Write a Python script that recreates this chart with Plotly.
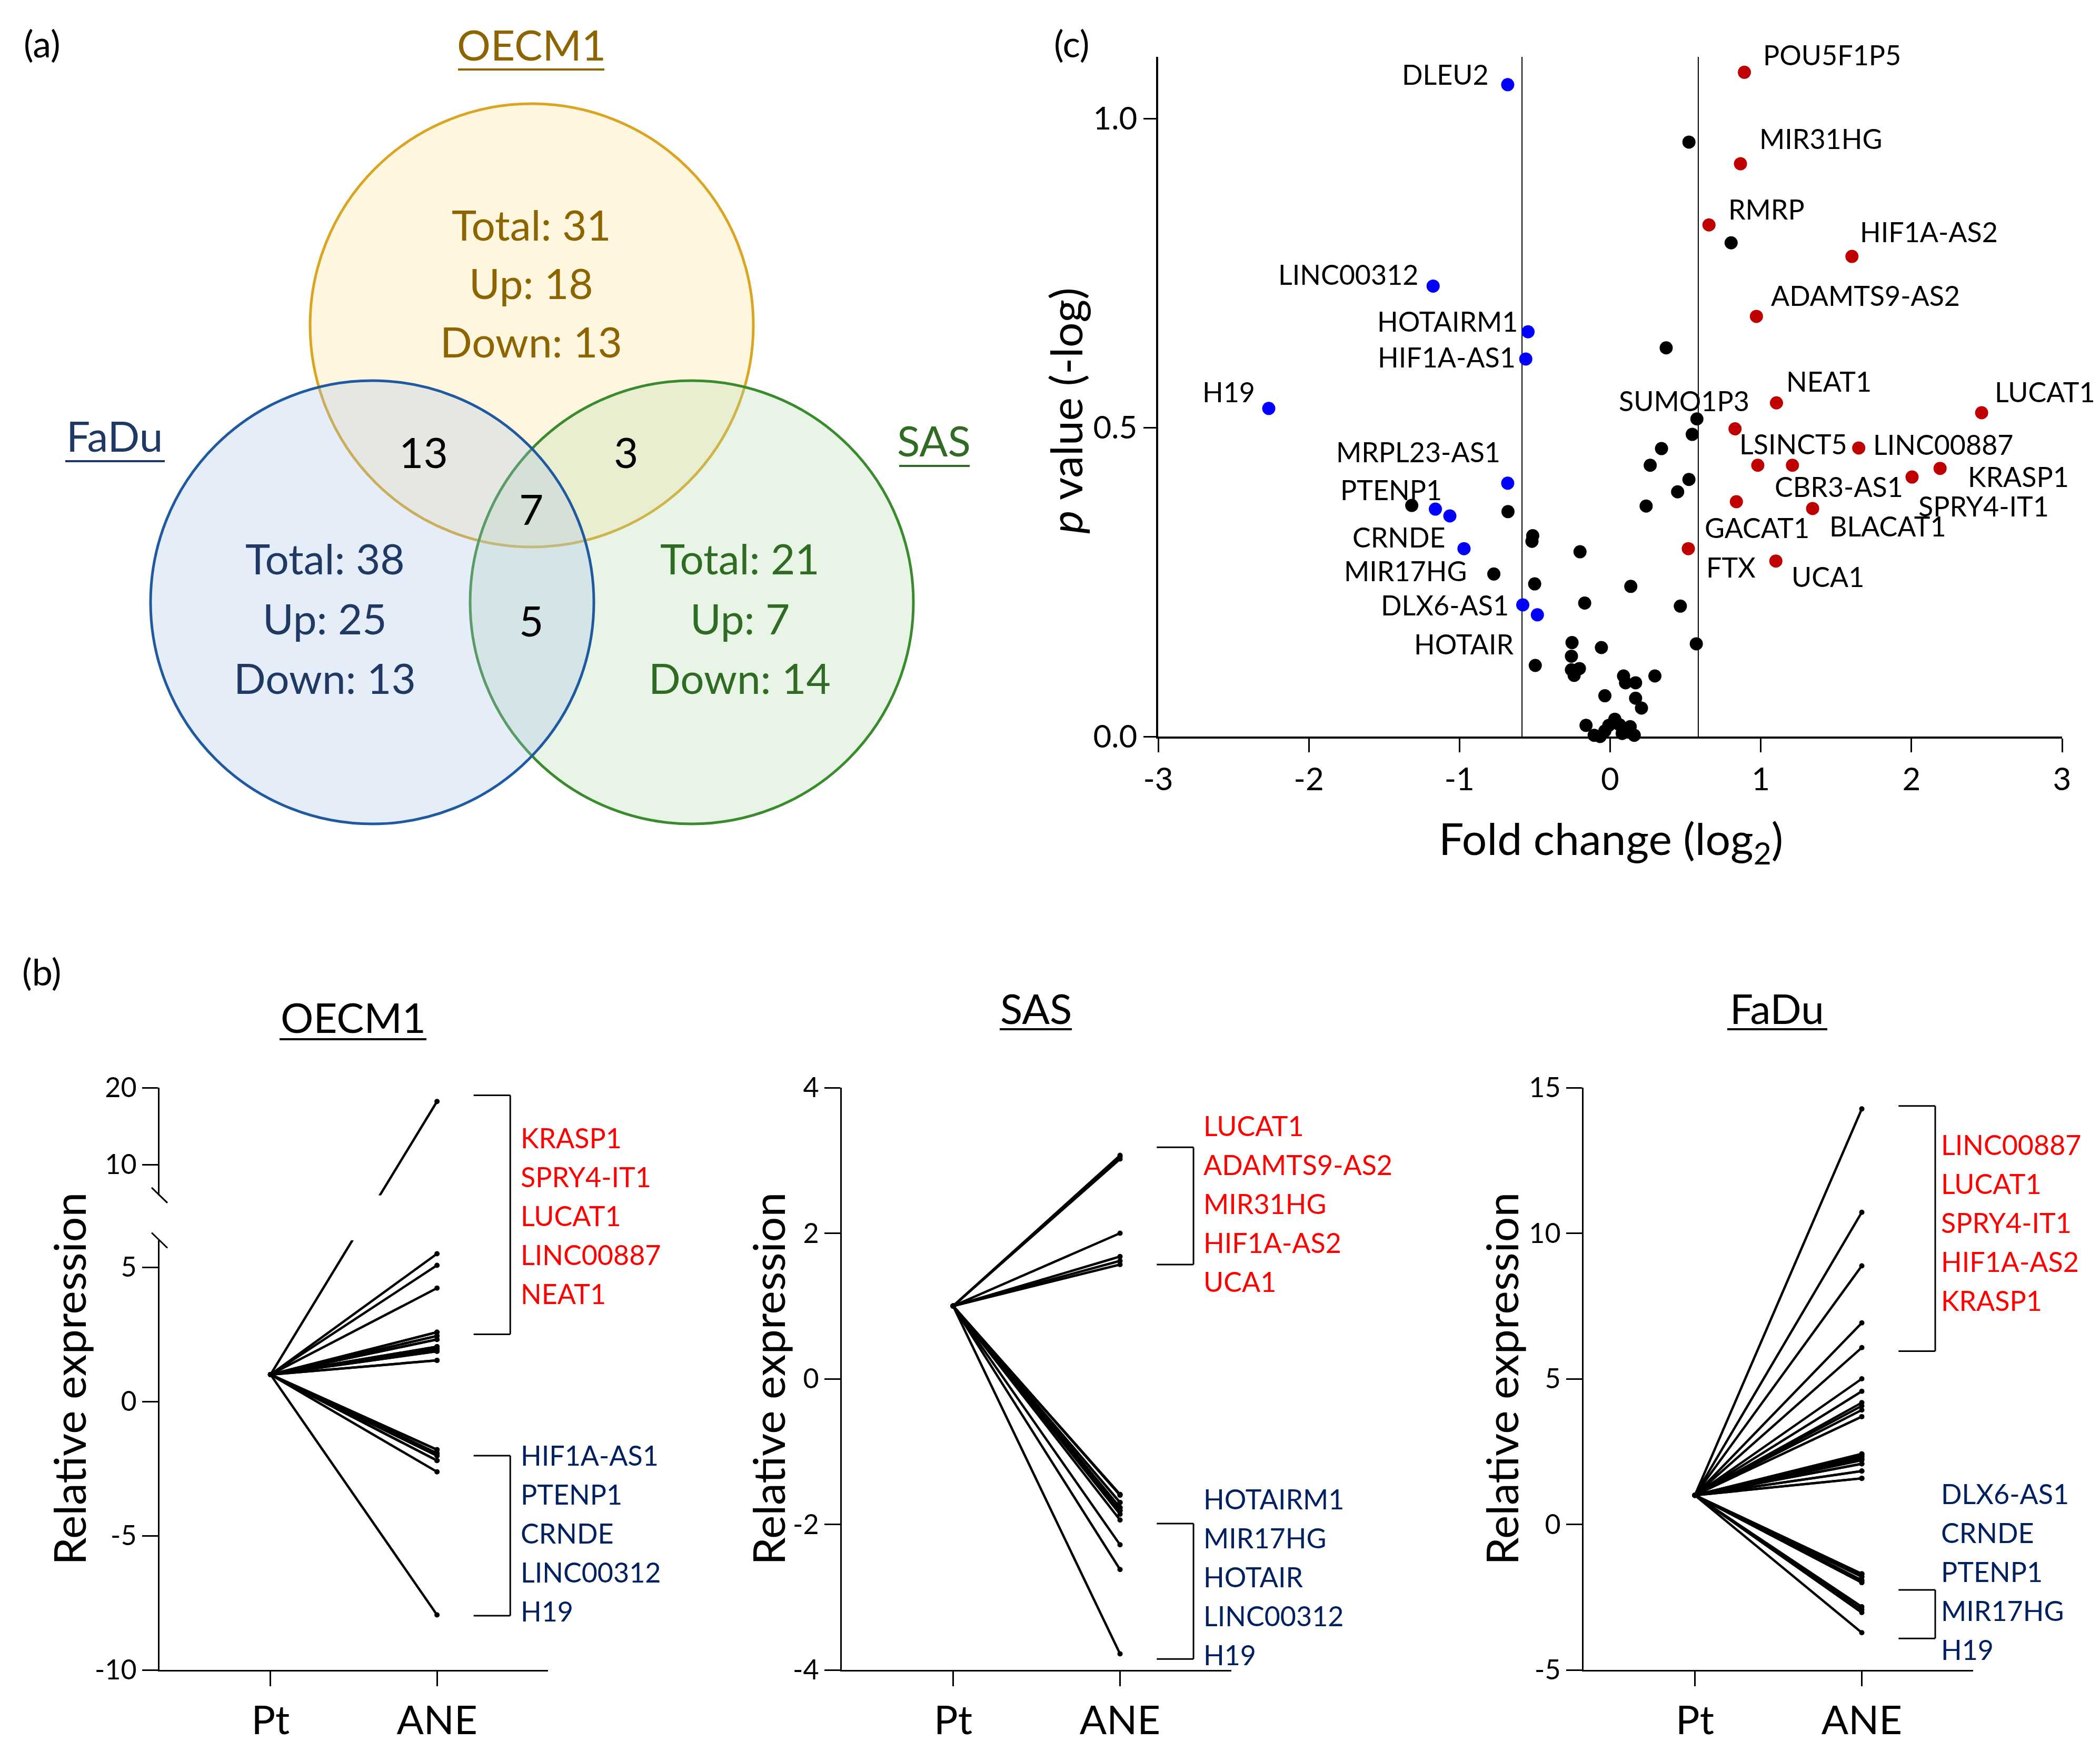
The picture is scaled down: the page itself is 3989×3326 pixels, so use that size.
import plotly.graph_objects as go

W, H = 3989, 3326
FONT = "Lato"

def px(x):
    return x / W

def py(y):
    return 1 - y / H

# ------------------------------------------------------------------ data
# (a) Venn diagram
VENN_SETS = ["OECM1", "FaDu", "SAS"]
VENN_TOTAL = [31, 38, 21]
VENN_UP = [18, 25, 7]
VENN_DOWN = [13, 13, 14]
VENN_OVERLAP_NAMES = ["OECM1&FaDu", "OECM1&SAS", "All", "FaDu&SAS"]
VENN_OVERLAP_COUNTS = [13, 3, 7, 5]

# (c) volcano plot: log2 fold change / -log p
DOWN_X = [-0.68, -1.175, -0.545, -0.56, -2.266, -0.68, -1.16, -1.064, -0.97, -0.58, -0.483]
DOWN_Y = [1.055, 0.729, 0.655, 0.611, 0.531, 0.410, 0.368, 0.357, 0.304, 0.213, 0.197]
UP_X = [0.891, 0.865, 0.656, 1.605, 0.971, 1.104, 2.466, 0.829, 1.65, 0.98, 1.21, 2.004, 2.19,
        0.838, 1.344, 0.519, 1.10]
UP_Y = [1.075, 0.927, 0.828, 0.777, 0.680, 0.540, 0.524, 0.498, 0.467, 0.439, 0.439, 0.420, 0.434,
        0.380, 0.369, 0.304, 0.284]
NS_X = [0.523, 0.803, 0.372, 0.576, 0.545, 0.341, 0.266, 0.523, 0.448, 0.239, -1.317, -0.678,
        -0.514, -0.519, -0.20, -0.772, -0.501, 0.137, -0.169, 0.466, -0.253, -0.058, 0.572,
        -0.497, -0.257, -0.257, -0.204, -0.239, 0.297, 0.089, 0.102, 0.169, -0.035, 0.169,
        0.208, 0.031, -0.16, -0.009, 0.062, 0.133, -0.035, -0.106, -0.067, 0.16, 0.08]
NS_Y = [0.962, 0.799, 0.629, 0.514, 0.489, 0.466, 0.439, 0.416, 0.396, 0.373, 0.374, 0.364,
        0.325, 0.316, 0.299, 0.263, 0.247, 0.243, 0.216, 0.211, 0.152, 0.144, 0.150,
        0.115, 0.130, 0.108, 0.110, 0.099, 0.098, 0.098, 0.087, 0.087, 0.066, 0.062,
        0.046, 0.028, 0.018, 0.018, 0.019, 0.016, 0.009, 0.002, 0.000, 0.002, 0.005]
FC_CUTOFF = 0.585
VOLC_X_RANGE = [-3, 3]
VOLC_Y_RANGE = [0, 1.1]
VOLC_X_TICKS = [-3, -2, -1, 0, 1, 2, 3]
VOLC_X_TICKTEXT = ["-3", "-2", "-1", "0", "1", "2", "3"]
VOLC_Y_TICKS = [0.0, 0.5, 1.0]
VOLC_Y_TICKTEXT = ["0.0", "0.5", "1.0"]

LEFT_LABELS = ["DLEU2", "LINC00312", "HOTAIRM1", "HIF1A-AS1", "H19", "SUMO1P3", "MRPL23-AS1",
               "PTENP1", "CRNDE", "MIR17HG", "DLX6-AS1", "HOTAIR"]
RIGHT_LABELS = ["POU5F1P5", "MIR31HG", "RMRP", "HIF1A-AS2", "ADAMTS9-AS2", "NEAT1", "LUCAT1",
                "LSINCT5", "LINC00887", "KRASP1", "CBR3-AS1", "SPRY4-IT1", "GACAT1", "BLACAT1",
                "FTX", "UCA1"]

# (b) paired relative expression (Pt normalised to 1)
PT_LEVEL = 1.0
OECM1_UP = [18.2, 5.5, 5.07, 4.22, 2.58, 2.58, 2.44, 2.44, 2.31, 2.31, 2.04, 2.04, 1.95, 1.95,
            1.87, 1.87, 1.53, 1.53]
OECM1_DOWN = [-1.8, -1.8, -1.8, -1.93, -1.93, -1.93, -2.02, -2.02, -2.02, -2.2, -2.2, -2.62, -7.95]
SAS_UP = [3.07, 3.05, 3.02, 2.0, 1.68, 1.62, 1.57]
SAS_DOWN = [-1.59, -1.59, -1.60, -1.70, -1.70, -1.77, -1.77, -1.81, -1.81, -1.86, -1.94,
            -2.28, -2.62, -3.78]
FADU_UP = [14.27, 10.72, 8.88, 6.92, 6.07, 5.0, 4.57, 4.18, 4.07, 3.93, 3.7, 2.42, 2.42, 2.38,
           2.33, 2.33, 2.25, 2.25, 2.2, 2.08, 2.08, 1.83, 1.83, 1.58, 1.58]
FADU_DOWN = [-1.70, -1.70, -1.72, -1.80, -1.80, -1.92, -1.92, -2.0, -2.0, -2.83, -2.93, -3.03,
             -3.72]

GROUPS = ["Pt", "ANE"]

OECM1_UP_GENES = ["KRASP1", "SPRY4-IT1", "LUCAT1", "LINC00887", "NEAT1"]
OECM1_DOWN_GENES = ["HIF1A-AS1", "PTENP1", "CRNDE", "LINC00312", "H19"]
SAS_UP_GENES = ["LUCAT1", "ADAMTS9-AS2", "MIR31HG", "HIF1A-AS2", "UCA1"]
SAS_DOWN_GENES = ["HOTAIRM1", "MIR17HG", "HOTAIR", "LINC00312", "H19"]
FADU_UP_GENES = ["LINC00887", "LUCAT1", "SPRY4-IT1", "HIF1A-AS2", "KRASP1"]
FADU_DOWN_GENES = ["DLX6-AS1", "CRNDE", "PTENP1", "MIR17HG", "H19"]

# bracket spans (top, bottom) in expression units
OECM1_BRACKETS = [(19.0, 2.5), (-2.02, -7.98)]
SAS_BRACKETS = [(3.18, 1.57), (-1.99, -3.85)]
FADU_BRACKETS = [(14.37, 5.95), (-2.25, -3.92)]

OECM1_TICKS = [-10, -5, 0, 5, 10, 20]
SAS_TICKS = [-4, -2, 0, 2, 4]
FADU_TICKS = [-5, 0, 5, 10, 15]

# ------------------------------------------------------------------ styles
BLACK = "#000000"
RED_TXT = "#FF0000"
BLUE_TXT = "#002060"
OE_COL, FA_COL, SA_COL = "#8C6400", "#1F3864", "#2F6B22"

fig = go.Figure()
annotations = []
shapes = []

def ann(text, x, y, size, color=BLACK, xanchor="center", yanchor="middle",
        xref="paper", yref="paper", angle=0):
    annotations.append(dict(text=text, x=x, y=y, xref=xref, yref=yref, showarrow=False,
                            xanchor=xanchor, yanchor=yanchor, textangle=angle,
                            font=dict(family=FONT, size=size, color=color)))

def hline_px(x0, x1, y, color, width=4):
    shapes.append(dict(type="line", xref="paper", yref="paper", x0=px(x0), x1=px(x1),
                       y0=py(y), y1=py(y), line=dict(color=color, width=width)))

# ------------------------------------------------------------------ (a) Venn
circles = [  # cx, cy, r (pixels), fill, line
    (1002, 610, 421, "rgb(255,246,224)", "#DAA520"),
    (1306, 1136, 421, "rgba(180,220,170,0.30)", "#3A8A2E"),
    (699, 1136, 421, "rgba(170,196,235,0.30)", "#1F5AA0"),
]
for cx, cy, r, fc, lc in circles:
    shapes.append(dict(type="circle", xref="paper", yref="paper", layer="below",
                       x0=px(cx - r), x1=px(cx + r), y0=py(cy + r), y1=py(cy - r),
                       fillcolor=fc, line=dict(color=lc, width=5)))

venn_text_pos = {"OECM1": (1001, [418, 529, 640], OE_COL),
                 "FaDu": (609, [1052, 1166, 1279], FA_COL),
                 "SAS": (1397, [1052, 1166, 1279], SA_COL)}
for name, tot, up, dn in zip(VENN_SETS, VENN_TOTAL, VENN_UP, VENN_DOWN):
    cx, ys, col = venn_text_pos[name]
    for txt, yy in zip([f"Total: {tot}", f"Up: {up}", f"Down: {dn}"], ys):
        ann(txt, px(cx), py(yy), 80, col)

overlap_pos = [(796, 850), (1181, 850), (1001, 958), (1001, 1170)]
for cnt, (xx, yy) in zip(VENN_OVERLAP_COUNTS, overlap_pos):
    ann(str(cnt), px(xx), py(yy), 80)

set_label_pos = {"OECM1": (1001, 76, 862, 1140, 124, OE_COL),
                 "FaDu": (209, 819, 116, 305, 868, FA_COL),
                 "SAS": (1766, 828, 1700, 1834, 877, SA_COL)}
for name in VENN_SETS:
    xx, yy, u0, u1, uy, col = set_label_pos[name]
    ann(name, px(xx), py(yy), 80, col)
    hline_px(u0, u1, uy, col, 4)

ann("(a)", px(72), py(74), 70)
ann("(b)", px(71), py(1837), 70)
ann("(c)", px(2028), py(74), 70)

# ------------------------------------------------------------------ (c) volcano
VX0, VX1, VY0, VY1 = 2192, 3909, 1391, 100   # plot-area pixel box

def vpx(x):  # data -> paper through the volcano x scale
    return px(VX0 + (x - VOLC_X_RANGE[0]) / (VOLC_X_RANGE[1] - VOLC_X_RANGE[0]) * (VX1 - VX0))

def vpy(y):
    return py(VY0 - (y - VOLC_Y_RANGE[0]) / (VOLC_Y_RANGE[1] - VOLC_Y_RANGE[0]) * (VY0 - VY1))

fig.add_trace(go.Scatter(x=[-FC_CUTOFF, -FC_CUTOFF, None, FC_CUTOFF, FC_CUTOFF],
                         y=[0, 1.1, None, 0, 1.1], mode="lines",
                         line=dict(color=BLACK, width=2), xaxis="x", yaxis="y",
                         showlegend=False, hoverinfo="skip"))
for xs, ys, col in [(NS_X, NS_Y, BLACK), (DOWN_X, DOWN_Y, "#0000FF"), (UP_X, UP_Y, "#C00000")]:
    fig.add_trace(go.Scatter(x=xs, y=ys, mode="markers", xaxis="x", yaxis="y",
                             marker=dict(color=col, size=25, line=dict(width=0)),
                             showlegend=False, cliponaxis=False))

left_pos = [(-0.80, 1.072), (-1.264, 0.748), (-0.603, 0.672), (-0.621, 0.614), (-2.35, 0.558),
            (0.931, 0.544), (-0.723, 0.461), (-1.109, 0.400), (-1.086, 0.323), (-0.945, 0.268),
            (-0.665, 0.213), (-0.634, 0.150)]
right_pos = [(1.007, 1.103), (0.984, 0.968), (0.776, 0.854), (1.65, 0.817), (1.06, 0.714),
             (1.162, 0.575), (2.545, 0.558), (0.851, 0.474), (1.738, 0.473), (2.368, 0.421),
             (1.086, 0.405), (2.04, 0.373), (0.621, 0.338), (1.45, 0.341), (0.63, 0.274),
             (1.197, 0.259)]
for lab, (xx, yy) in zip(LEFT_LABELS, left_pos):
    ann(lab, vpx(xx), vpy(yy), 52, xanchor="right")
for lab, (xx, yy) in zip(RIGHT_LABELS, right_pos):
    ann(lab, vpx(xx), vpy(yy), 52, xanchor="left")

ann("Fold change (log<sub>2</sub>)", px(3052), py(1590), 84)
ann("<i>p</i> value (-log)", px(2015), py(772), 84, angle=-90)

# ------------------------------------------------------------------ (b) paired plots
BRK = 6.0          # axis break value (OECM1)
GAP = 1.679        # blank gap in lower-scale units
RATIO = 0.2863     # upper segment scale relative to lower

def t_oecm1(v):
    return v if v <= BRK else BRK + GAP + (v - BRK) * RATIO

def ident(v):
    return v

panels = [
    ("x2", "y2", OECM1_UP, OECM1_DOWN, OECM1_TICKS, t_oecm1, OECM1_BRACKETS,
     OECM1_UP_GENES, OECM1_DOWN_GENES, (295, 1033), 2153, 2756, 979,
     "OECM1", (663, 1924, 523, 802, 1966), 122),
    ("x3", "y3", SAS_UP, SAS_DOWN, SAS_TICKS, ident, SAS_BRACKETS,
     SAS_UP_GENES, SAS_DOWN_GENES, (1591, 2331), 2130, 2839, 2276,
     "SAS", (1960, 1907, 1891, 2028, 1947), 1450),
    ("x4", "y4", FADU_UP, FADU_DOWN, FADU_TICKS, ident, FADU_BRACKETS,
     FADU_UP_GENES, FADU_DOWN_GENES, (3000, 3740), 2166, 2829, 3677,
     "FaDu", (3367, 1907, 3273, 3463, 1947), 2843),
]

X_RANGE = [-0.667, 1.667]
LINE_STEP = 74
axis_layout = {}
for (xa, ya, ups, downs, ticks, tf, brackets, up_genes, down_genes, (xl, xr),
     red_y0, blue_y0, lab_x, title, (tx, ty, u0, u1, uy), ylab_x) in panels:
    xs, ys = [], []
    for v in ups + downs:
        xs += [0, 1, None]
        ys += [tf(PT_LEVEL), tf(v), None]
    fig.add_trace(go.Scatter(x=xs, y=ys, mode="lines+markers", xaxis=xa, yaxis=ya,
                             line=dict(color=BLACK, width=4.5),
                             marker=dict(color=BLACK, size=10),
                             showlegend=False, cliponaxis=False))
    for top, bot in brackets:
        t0, t1 = tf(top), tf(bot)
        bx0, bx1 = 1.22, 1.44
        for (a, b, c, d) in [(bx0, t0, bx1, t0), (bx1, t0, bx1, t1), (bx0, t1, bx1, t1)]:
            shapes.append(dict(type="line", xref=xa, yref=ya, x0=a, y0=b, x1=c, y1=d,
                               line=dict(color=BLACK, width=3)))
    for i, g in enumerate(up_genes):
        ann(g, px(lab_x), py(red_y0 + i * LINE_STEP), 52, RED_TXT, xanchor="left")
    for i, g in enumerate(down_genes):
        ann(g, px(lab_x), py(blue_y0 + i * LINE_STEP), 52, BLUE_TXT, xanchor="left")
    ann(title, px(tx), py(ty), 78)
    hline_px(u0, u1, uy, BLACK, 4)
    ann("Relative expression", px(ylab_x), py(2611), 84, angle=-90)

    n = xa[1:]
    yr = [tf(min(ticks)), tf(max(ticks))]
    axis_layout["xaxis" + n] = dict(domain=[px(xl), px(xr)], range=X_RANGE, anchor=ya,
                                    tickvals=[0, 1], ticktext=GROUPS, automargin=False,
                                    showline=True, linewidth=3, linecolor=BLACK,
                                    ticks="outside", ticklen=28, tickwidth=3,
                                    tickcolor=BLACK, showgrid=False, zeroline=False,
                                    tickfont=dict(family=FONT, size=76, color=BLACK))
    axis_layout["yaxis" + n] = dict(domain=[py(3164), py(2058)], range=yr, anchor=xa,
                                    tickvals=[tf(v) for v in ticks],
                                    ticktext=[str(v) for v in ticks], automargin=False,
                                    showline=True, linewidth=3, linecolor=BLACK,
                                    ticks="outside", ticklen=30, tickwidth=3,
                                    tickcolor=BLACK, showgrid=False, zeroline=False,
                                    tickfont=dict(family=FONT, size=52, color=BLACK))

# OECM1 axis break: blank band + break marks
shapes.append(dict(type="rect", xref="x2 domain", yref="y2", x0=-0.05, x1=0.75,
                   y0=BRK, y1=BRK + GAP, fillcolor="white", line=dict(width=0), layer="above"))
dx = 15 / 738
dy = 14.5 / 51
for yc in [BRK, BRK + GAP]:
    shapes.append(dict(type="line", xref="x2 domain", yref="y2", x0=-dx, x1=dx,
                       y0=yc + dy, y1=yc - dy, line=dict(color=BLACK, width=3), layer="above"))

fig.update_layout(
    width=W, height=H, margin=dict(l=0, r=0, t=0, b=0, pad=0, autoexpand=False),
    paper_bgcolor="white", plot_bgcolor="rgba(0,0,0,0)",
    font=dict(family=FONT, color=BLACK),
    xaxis=dict(domain=[px(VX0), px(VX1)], range=VOLC_X_RANGE, anchor="y", automargin=False,
               tickvals=VOLC_X_TICKS, ticktext=VOLC_X_TICKTEXT,
               showline=True, linewidth=3.5, linecolor=BLACK, ticks="outside",
               ticklen=26, tickwidth=2.5, tickcolor=BLACK, showgrid=False, zeroline=False,
               tickfont=dict(family=FONT, size=60, color=BLACK)),
    yaxis=dict(domain=[py(VY0), py(VY1)], range=VOLC_Y_RANGE, anchor="x", automargin=False,
               tickvals=VOLC_Y_TICKS, ticktext=VOLC_Y_TICKTEXT,
               showline=True, linewidth=3.5, linecolor=BLACK, ticks="outside",
               ticklen=24, tickwidth=2.5, tickcolor=BLACK, showgrid=False, zeroline=False,
               tickfont=dict(family=FONT, size=60, color=BLACK)),
    annotations=annotations, shapes=shapes, showlegend=False,
)
fig.update_layout(**axis_layout)

fig.write_html("out.html")
